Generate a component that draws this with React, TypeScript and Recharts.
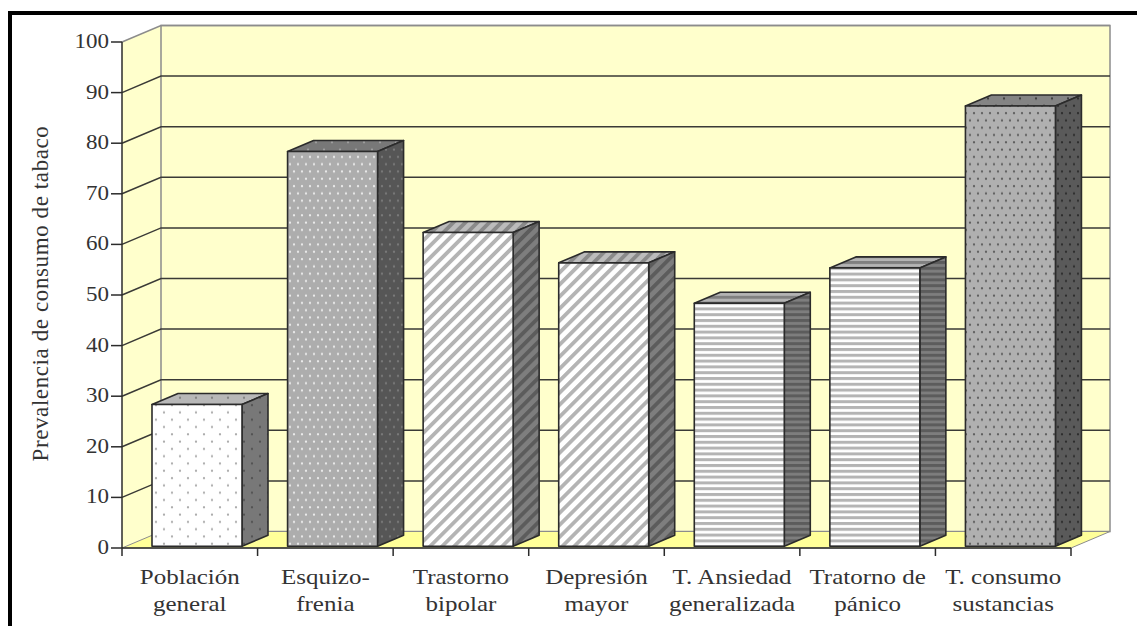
import React from "react";
import { BarChart, Bar, XAxis, YAxis, CartesianGrid, usePlotArea } from "recharts";

// Prevalence of tobacco use by diagnostic group
const categories = [
  "Población\ngeneral",
  "Esquizo-\nfrenia",
  "Trastorno\nbipolar",
  "Depresión\nmayor",
  "T. Ansiedad\ngeneralizada",
  "Tratorno de\npánico",
  "T. consumo\nsustancias",
];
const prevalence = [28, 78, 62, 56, 48, 55, 87];
const valueTicks = [0, 10, 20, 30, 40, 50, 60, 70, 80, 90, 100];
const axisTitle = "Prevalencia de consumo de tabaco";

const rows = categories.map((name, i) => ({ name, value: prevalence[i] }));

// 3D extrusion of the box walls and of each bar
const WALL_DX = 39;
const WALL_DY = 16.5;
const BAR_DX = 26;
const BAR_DY = 11;
const BAR_SHIFT_X = 7;
const BAR_SHIFT_Y = -1.8;
const INK = "#2b2b2b";
const TEXT = "#333333";
const SERIF = "'Liberation Serif', serif";

const patternNames = ["sparse", "lightDots", "diag", "diag", "horiz", "horiz", "darkDots"];

function Dots({ id, bg, dot, w, h, r }: { id: string; bg: string; dot: string; w: number; h: number; r: number }) {
  return (
    <pattern id={id} width={w} height={h} patternUnits="userSpaceOnUse">
      <rect width={w} height={h} fill={bg} />
      <circle cx={w / 4} cy={h / 4} r={r} fill={dot} />
      <circle cx={(3 * w) / 4} cy={(3 * h) / 4} r={r} fill={dot} />
    </pattern>
  );
}

function Diag({ id, bg, stripe }: { id: string; bg: string; stripe: string }) {
  return (
    <pattern id={id} width={8.5} height={8.5} patternUnits="userSpaceOnUse" patternTransform="rotate(45)">
      <rect width={8.5} height={8.5} fill={bg} />
      <rect width={3.8} height={8.5} fill={stripe} />
    </pattern>
  );
}

function Horiz({ id, bg, stripe }: { id: string; bg: string; stripe: string }) {
  return (
    <pattern id={id} width={6} height={5.8} patternUnits="userSpaceOnUse">
      <rect width={6} height={5.8} fill={bg} />
      <rect width={6} height={3} fill={stripe} />
    </pattern>
  );
}

function Fills() {
  return (
    <defs>
      <Dots id="sparse-f" bg="#ffffff" dot="#a8a8a8" w={16} h={14.6} r={1.1} />
      <Dots id="sparse-t" bg="#b8b8b8" dot="#808080" w={16} h={14.6} r={1.1} />
      <Dots id="sparse-s" bg="#787878" dot="#505050" w={16} h={14.6} r={1.1} />
      <Dots id="lightDots-f" bg="#adadad" dot="#eeeeee" w={8} h={14.6} r={1.1} />
      <Dots id="lightDots-t" bg="#787878" dot="#a0a0a0" w={16} h={14.6} r={1.1} />
      <Dots id="lightDots-s" bg="#565656" dot="#7c7c7c" w={8} h={14.6} r={1.1} />
      <Diag id="diag-f" bg="#ffffff" stripe="#b4b4b4" />
      <Diag id="diag-t" bg="#bcbcbc" stripe="#8a8a8a" />
      <Diag id="diag-s" bg="#7e7e7e" stripe="#5c5c5c" />
      <Horiz id="horiz-f" bg="#ffffff" stripe="#b4b4b4" />
      <Horiz id="horiz-t" bg="#b4b4b4" stripe="#808080" />
      <Horiz id="horiz-s" bg="#7e7e7e" stripe="#5c5c5c" />
      <Dots id="darkDots-f" bg="#b0b0b0" dot="#5a5a5a" w={8} h={14.6} r={1.1} />
      <Dots id="darkDots-t" bg="#848484" dot="#3a3a3a" w={16} h={14.6} r={1.1} />
      <Dots id="darkDots-s" bg="#5a5a5a" dot="#2a2a2a" w={8} h={14.6} r={1.1} />
    </defs>
  );
}

// Left wall, back wall and floor of the box, behind the grid
function Walls() {
  const plot = usePlotArea();
  if (!plot) return null;
  const l = plot.x;
  const r = plot.x + plot.width;
  const t = plot.y;
  const b = plot.y + plot.height;
  return (
    <g>
      <Fills />
      <polygon points={`${l},${t} ${l + WALL_DX},${t - WALL_DY} ${l + WALL_DX},${b - WALL_DY} ${l},${b}`} fill="#ffffcc" />
      <rect x={l + WALL_DX} y={t - WALL_DY} width={plot.width} height={plot.height} fill="#ffffcc" stroke="#8c8c8c" strokeWidth={1.5} />
      <polygon points={`${l},${b} ${r},${b} ${r + WALL_DX},${b - WALL_DY} ${l + WALL_DX},${b - WALL_DY}`} fill="#ffff99" stroke="#8c8c8c" strokeWidth={1} />
    </g>
  );
}

// A grid line runs up the left wall and then across the back wall
function WallGridLine(props: any) {
  const { x1, x2, y1 } = props;
  const y = y1;
  const isTop = Math.abs(y - 42) < 1;
  const isFloor = Math.abs(y - 548) < 1;
  if (isFloor) return <g />;
  return (
    <polyline
      points={`${x1},${y} ${x1 + WALL_DX},${y - WALL_DY} ${x2 + WALL_DX},${y - WALL_DY}`}
      fill="none"
      stroke={isTop ? "#8c8c8c" : "#3a3a36"}
      strokeWidth={1.5}
    />
  );
}

function Box3D(props: any) {
  const { x, y, width, height, index } = props;
  const name = patternNames[index];
  const l = x + BAR_SHIFT_X;
  const t = y + BAR_SHIFT_Y;
  const r = l + width;
  const b = t + height;
  return (
    <g stroke={INK} strokeWidth={1.6} strokeLinejoin="round">
      <polygon points={`${l},${t} ${l + BAR_DX},${t - BAR_DY} ${r + BAR_DX},${t - BAR_DY} ${r},${t}`} fill={`url(#${name}-t)`} />
      <polygon points={`${r},${t} ${r + BAR_DX},${t - BAR_DY} ${r + BAR_DX},${b - BAR_DY} ${r},${b}`} fill={`url(#${name}-s)`} />
      <rect x={l} y={t} width={width} height={height} fill={`url(#${name}-f)`} />
    </g>
  );
}

function CategoryTick(props: any) {
  const { x, y, payload, index } = props;
  const lines = String(payload.value).split("\n");
  const half = 135.57 / 2;
  return (
    <g>
      <line x1={x - half} x2={x - half} y1={548} y2={556} stroke={INK} strokeWidth={1.5} />
      {index === categories.length - 1 && (
        <line x1={x + half} x2={x + half} y1={548} y2={556} stroke={INK} strokeWidth={1.5} />
      )}
      <g transform={`translate(${x},${y}) scale(1.19,1)`}>
        <text textAnchor="middle" fontFamily={SERIF} fontSize={21} fill={TEXT}>
          {lines.map((line, i) => (
            <tspan key={i} x={0} y={28 + i * 27}>
              {line}
            </tspan>
          ))}
        </text>
      </g>
    </g>
  );
}

function ValueTick(props: any) {
  const { x, y, payload } = props;
  return (
    <g transform={`translate(${x},${y}) scale(1.15,1)`}>
      <text textAnchor="end" y={6} fontFamily={SERIF} fontSize={20} fill={TEXT}>
        {payload.value}
      </text>
    </g>
  );
}

function AxisTitle() {
  return (
    <text
      transform="translate(48,293.5) rotate(-90)"
      textAnchor="middle"
      fontFamily={SERIF}
      fontSize={23}
      letterSpacing={0.6}
      fill={TEXT}
    >
      {axisTitle}
    </text>
  );
}

export default function App() {
  return (
    <div style={{ position: "absolute", left: 0, top: 0, width: 1137, height: 626, background: "#fff" }}>
      <div style={{ position: "absolute", left: 8, top: 11, right: 0, height: 4, background: "#000" }} />
      <div style={{ position: "absolute", left: 8, top: 11, bottom: 0, width: 4, background: "#000" }} />
      <BarChart
        width={1137}
        height={626}
        data={rows}
        margin={{ top: 42, right: 66, bottom: 0, left: 52 }}
        barSize={90}
        style={{ position: "absolute", left: 0, top: 0 }}
      >
        <Walls />
        <CartesianGrid vertical={false} horizontal={WallGridLine} zIndex={1} />
        <XAxis
          dataKey="name"
          height={78}
          interval={0}
          tick={CategoryTick}
          tickLine={false}
          axisLine={{ stroke: INK, strokeWidth: 1.5 }}
        />
        <YAxis
          width={70}
          domain={[0, 100]}
          ticks={valueTicks}
          interval={0}
          tick={ValueTick}
          tickSize={11}
          tickMargin={2}
          tickLine={{ stroke: INK, strokeWidth: 1.5 }}
          axisLine={{ stroke: INK, strokeWidth: 1.5 }}
          label={<AxisTitle />}
        />
        <Bar dataKey="value" isAnimationActive={false} shape={Box3D} />
      </BarChart>
    </div>
  );
}
